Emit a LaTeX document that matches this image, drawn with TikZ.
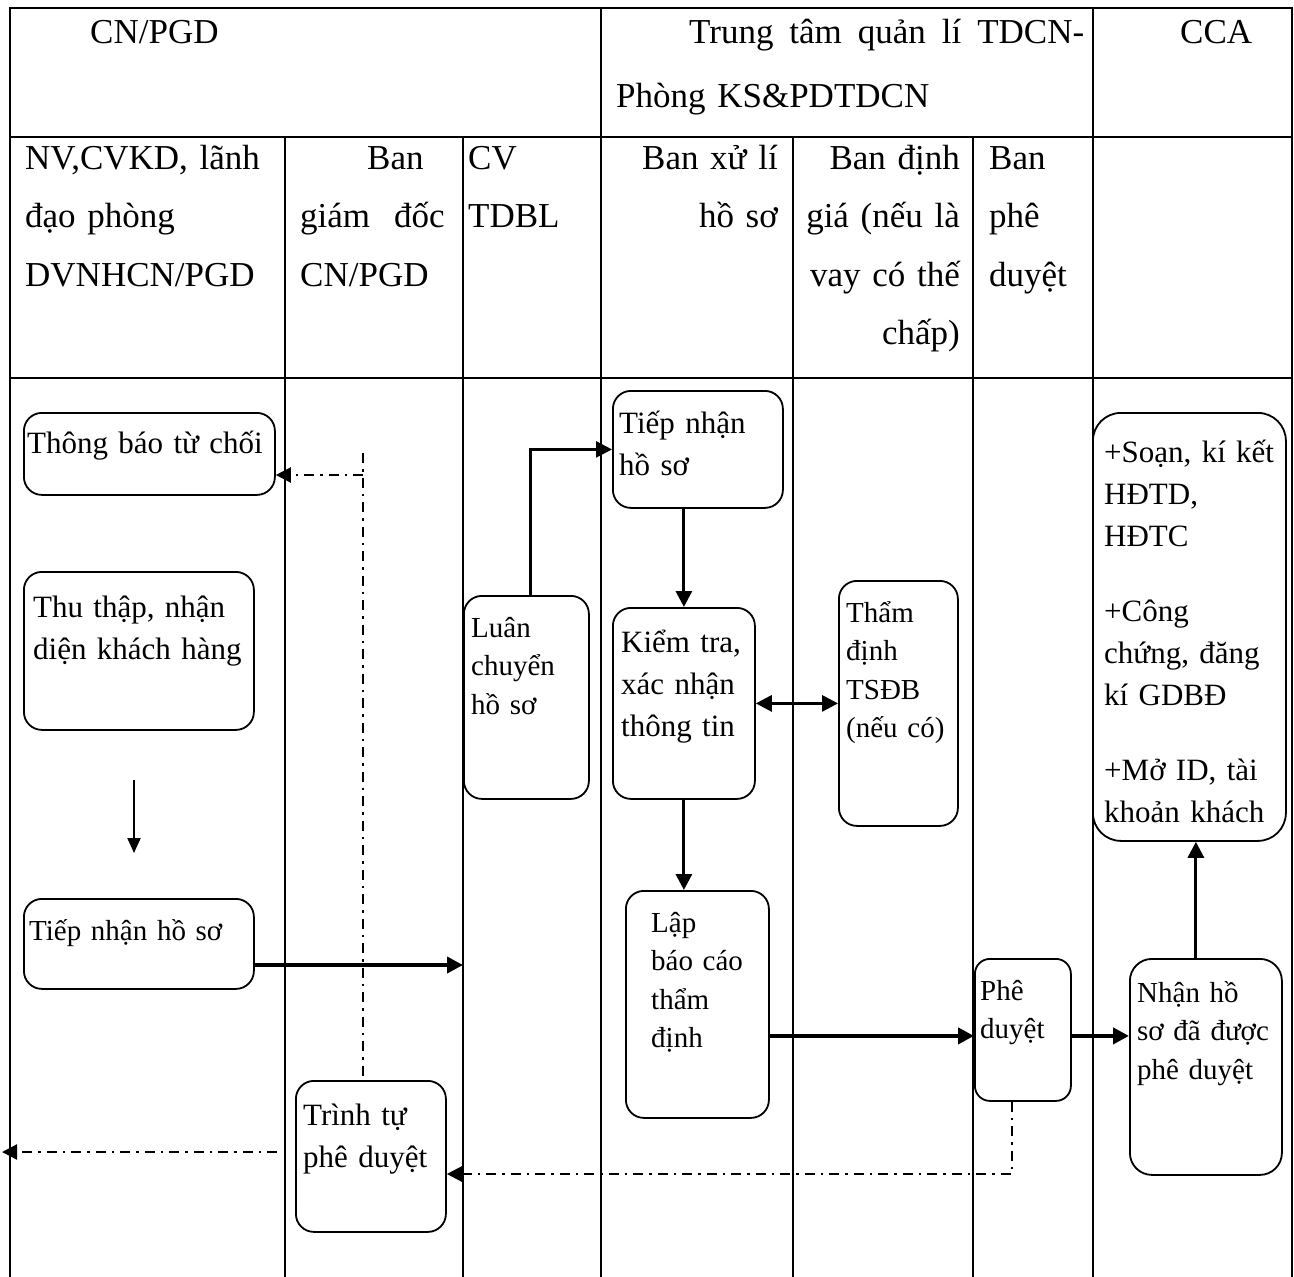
\documentclass[tikz,border=0pt]{standalone}
\usepackage{fontspec}
\setmainfont{Liberation Serif}
\usetikzlibrary{arrows.meta}

\begin{document}
\begin{tikzpicture}[x=1pt,y=-1pt,
		grid/.style={line width=1.8pt},
		box/.style={draw, line width=1.8pt, rounded corners=18pt, anchor=north west, inner sep=0pt},
		head/.style={inner sep=0pt, text width=250pt, font={\fontsize{35}{58.5}\selectfont}},
		big/.style={anchor=base west, inner sep=0pt, text width=260pt, align=left, font={\fontsize{31}{42}\selectfont}},
		small/.style={anchor=base west, inner sep=0pt, text width=260pt, align=left, font={\fontsize{29}{38.5}\selectfont}},
		flow/.style={line width=3pt, -{Triangle[length=16pt,width=16pt]}},
		dd/.style={line width=2.2pt, dash pattern=on 10pt off 6pt on 2.5pt off 6pt}
		]
		\useasboundingbox (0,0) rectangle (1294,1277);
		\draw[grid] (10,1277) -- (10,8) -- (1292,8) -- (1292,1277);
		\draw[grid] (10,137) -- (1292,137) (10,378) -- (1292,378);
		\foreach \x in {601,1093} \draw[grid] (\x,8) -- (\x,1277);
		\foreach \x in {285,463,793,973} \draw[grid] (\x,137) -- (\x,1277);
		
		\node[head, anchor=base west, align=left] (cnpgd) at (90,43) {CN/PGD};
		\node[head, anchor=base west, text width=468pt, align=left] (trungtam) at (616,43) {\hspace*{73pt}Trung\hfill tâm\hfill quản\hfill lí\hfill TDCN-\\[6pt]Phòng KS\&PDTDCN};
		\node[head, anchor=base west, align=left] (cca) at (1180,43) {CCA};
		\node[head, anchor=base west, align=left] (nvcvkd) at (25,169) {NV,CVKD, lãnh\\đạo phòng\\DVNHCN/PGD};
		\node[head, anchor=base west, align=left] (bangiamdoc) at (300,169) {\hspace*{67pt}Ban\\giám\hspace{24pt}đốc\\CN/PGD};
		\node[head, anchor=base west, align=left] (cvtdbl) at (468,169) {CV\\TDBL};
		\node[head, anchor=base east, align=right] (banxuli) at (778,169) {Ban xử lí\\hồ sơ};
		\node[head, anchor=base east, align=right] (bandinhgia) at (960,169) {Ban định\\giá (nếu là\\vay có thế\\chấp)};
		\node[head, anchor=base west, align=left] (banpheduyet) at (989,169) {Ban\\phê\\duyệt};
		
		\node[box, minimum width=251pt, minimum height=82pt] (thongbao) at (23,412) {};
		\node[big] (thongbaoT) at (27,453) {Thông báo từ chối};
		\node[box, minimum width=230pt, minimum height=158pt] (thuthap) at (23,571) {};
		\node[big] (thuthapT) at (33,617) {Thu thập, nhận\\diện khách hàng};
		\node[box, minimum width=230pt, minimum height=90pt] (tiepnhanA) at (23,898) {};
		\node[small] (tiepnhanAT) at (29,940) {Tiếp nhận hồ sơ};
		\node[box, minimum width=150pt, minimum height=151pt] (trinhtu) at (295,1080) {};
		\node[big] (trinhtuT) at (303,1125) {Trình tự\\phê duyệt};
		\node[box, minimum width=125pt, minimum height=203pt] (luanchuyen) at (463,595) {};
		\node[small] (luanchuyenT) at (471,637) {Luân\\chuyển\\hồ sơ};
		\node[box, minimum width=170pt, minimum height=117pt] (tiepnhanB) at (612,390) {};
		\node[big] (tiepnhanBT) at (619,433) {Tiếp nhận\\hồ sơ};
		\node[box, minimum width=142pt, minimum height=191pt] (kiemtra) at (612,607) {};
		\node[big] (kiemtraT) at (621,652) {Kiểm tra,\\xác nhận\\thông tin};
		\node[box, minimum width=119pt, minimum height=245pt] (thamdinh) at (838,580) {};
		\node[small] (thamdinhT) at (846,622) {Thẩm\\định\\TSĐB\\(nếu có)};
		\node[box, minimum width=143pt, minimum height=227pt] (lapbaocao) at (625,890) {};
		\node[small] (lapbaocaoT) at (651,932) {Lập\\báo cáo\\thẩm\\định};
		\node[box, rounded corners=15pt, minimum width=96pt, minimum height=142pt] (pheduyet) at (974,958) {};
		\node[small] (pheduyetT) at (980,1000) {Phê\\duyệt};
		\node[box, rounded corners=22pt, minimum width=152pt, minimum height=216pt] (nhanhoso) at (1129,958) {};
		\node[small] (nhanhosoT) at (1137,1002) {Nhận hồ\\sơ đã được\\phê duyệt};
		\node[box, rounded corners=28pt, minimum width=193pt, minimum height=428pt] (ccabox) at (1092,412) {};
		\node[big] (ccaT) at (1104,462) {+Soạn, kí kết\\HĐTD,\\HĐTC\\[33pt]+Công\\chứng, đăng\\kí GDBĐ\\[33pt]+Mở ID, tài\\khoản khách};
		
		\coordinate (down1) at (134,780);
		\coordinate (down2) at (134,853);
		\coordinate (to463) at (463,965);
		\coordinate (dd1) at (363,453);
		\coordinate (dd2) at (363,475);
		\coordinate (dd3) at (277,1152);
		\coordinate (dd4) at (2,1152);
		\coordinate (dd5) at (445,1174);
		
		\draw[line width=2pt, -{Triangle[length=15pt,width=13pt]}] (down1) -- (down2);
		\draw[flow, line width=4pt] (tiepnhanA.east |- to463) -- (to463);
		\draw[flow, line width=2.5pt] ([xshift=4pt]luanchuyen.north) |- (tiepnhanB.west);
		\draw[flow] (kiemtra.north |- tiepnhanB.south) -- (kiemtra.north);
		\draw[flow, {Triangle[length=16pt,width=16pt]}-{Triangle[length=16pt,width=16pt]}] (kiemtra.east) -- (thamdinh.west |- kiemtra.east);
		\draw[flow] (kiemtra.south) -- (kiemtra.south |- lapbaocao.north);
		\draw[flow, line width=4pt] (lapbaocao.east |- pheduyet.west) ++(0,6) -- ([yshift=-6pt]pheduyet.west);
		\draw[flow, line width=4pt] ([yshift=-6pt]pheduyet.east) -- ([yshift=-6pt]nhanhoso.west |- pheduyet.east);
		\draw[flow] ([xshift=-10pt]nhanhoso.north) -- ([xshift=-10pt]nhanhoso.north |- ccabox.south);
		
		\draw[dd] (dd1) -- (dd1 |- trinhtu.north);
		\draw[dd, -{Triangle[length=15pt,width=15pt]}] (dd2) -- (thongbao.east |- dd2);
		\draw[dd, -{Triangle[length=15pt,width=15pt]}] (dd3) -- (dd4);
		\draw[dd, -{Triangle[length=15pt,width=15pt]}] ([xshift=-11pt]pheduyet.south) |- (trinhtu.east |- dd5);
	\end{tikzpicture}
\end{document}
